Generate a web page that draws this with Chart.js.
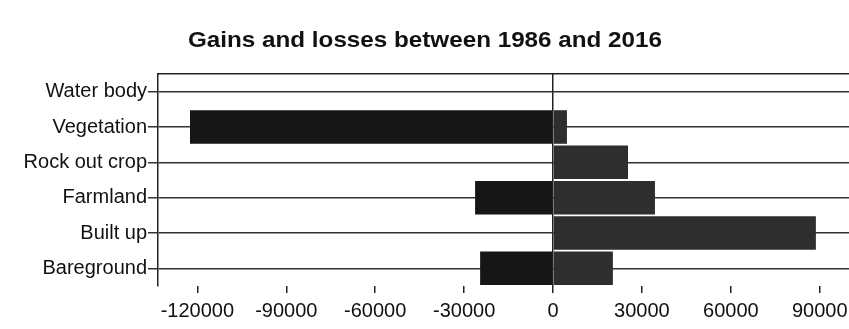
<!DOCTYPE html>
<html>
<head>
<meta charset="utf-8">
<script src="https://cdn.jsdelivr.net/npm/chart.js@4"></script>
<style>
  html, body { margin: 0; padding: 0; background: #fff; overflow: hidden; }
  #wrap { width: 880px; height: 329px; position: relative; }
</style>
</head>
<body>
<div id="wrap"><canvas id="barChart"></canvas></div>
<script>
const categories = ['Water body', 'Vegetation', 'Rock out crop', 'Farmland', 'Built up', 'Bareground'];
const losses = [0, -122500, 0, -26300, 0, -24600];
const gains = [0, 4700, 25300, 34400, 88700, 20200];
const xTicks = [-120000, -90000, -60000, -30000, 0, 30000, 60000, 90000];
const chartTitle = 'Gains and losses between 1986 and 2016';

// title sits off-centre and a bit stretched in the scan, so draw it ourselves
const titlePlugin = {
  id: 'scanTitle',
  afterDraw(chart) {
    const ctx = chart.ctx;
    ctx.save();
    ctx.font = 'bold 22px "Liberation Sans", Arial, sans-serif';
    ctx.fillStyle = '#111';
    ctx.textAlign = 'center';
    ctx.textBaseline = 'alphabetic';
    const w = ctx.measureText(chartTitle).width;
    ctx.translate(425, 47);
    ctx.scale(474 / w, 1);
    ctx.fillText(chartTitle, 0, 0);
    ctx.restore();
  }
};

const ctx = document.getElementById('barChart').getContext('2d');
new Chart(ctx, {
  type: 'bar',
  data: {
    labels: categories,
    datasets: [
      { label: 'Losses', data: losses, backgroundColor: '#161616', barPercentage: 0.95, categoryPercentage: 1 },
      { label: 'Gains', data: gains, backgroundColor: '#2e2e2e', barPercentage: 0.95, categoryPercentage: 1 }
    ]
  },
  options: {
    indexAxis: 'y',
    responsive: true,
    maintainAspectRatio: false,
    animation: false,
    layout: { padding: { top: 74, left: 0, right: 1, bottom: 0 } },
    plugins: {
      legend: { display: false },
      title: { display: false },
      tooltip: { enabled: false }
    },
    scales: {
      x: {
        stacked: true,
        min: -133300,
        max: 110000,
        afterBuildTicks: (scale) => { scale.ticks = xTicks.map(v => ({ value: v })); },
        afterFit: (scale) => { scale.height = 43; },
        border: { display: false },
        grid: {
          color: (c) => (c.tick && c.tick.value === 0 ? '#222' : 'rgba(0,0,0,0)'),
          lineWidth: 1.5,
          tickColor: '#222',
          tickLength: 7
        },
        ticks: {
          color: '#111',
          padding: 6,
          font: { family: '"Liberation Sans", Arial, sans-serif', size: 20 },
          callback: (v) => String(v)
        }
      },
      x2: {
        position: 'top',
        min: -133300,
        max: 110000,
        afterFit: (scale) => { scale.height = 0; },
        border: { display: true, color: '#222', width: 1.5 },
        grid: { display: false },
        ticks: { display: false }
      },
      y: {
        stacked: true,
        afterFit: (scale) => { scale.width = 158; },
        border: { display: true, color: '#222', width: 1.5 },
        grid: {
          offset: false,
          color: '#333',
          lineWidth: 1.5,
          tickColor: '#333',
          tickLength: 10
        },
        ticks: {
          color: '#111',
          padding: 1,
          font: { family: '"Liberation Sans", Arial, sans-serif', size: 20 }
        }
      }
    }
  },
  plugins: [titlePlugin]
});
</script>
</body>
</html>
